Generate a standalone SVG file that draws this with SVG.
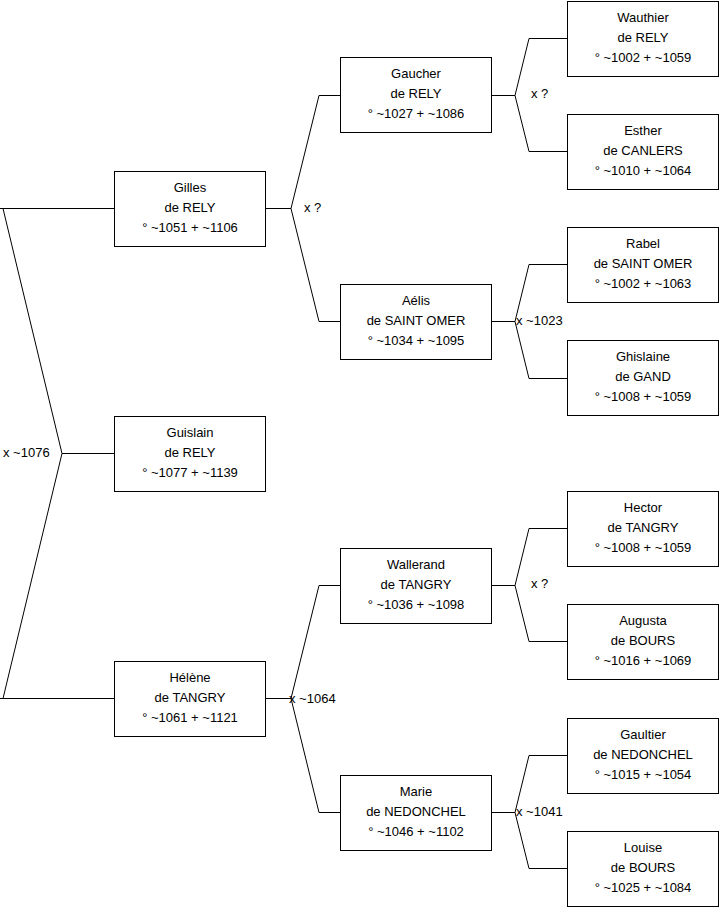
<svg xmlns="http://www.w3.org/2000/svg" width="719" height="908" viewBox="0 0 719 908">
<style>
.box{fill:#fff;stroke:#000;stroke-width:1}
.t{font-family:"Liberation Sans",Arial,sans-serif;font-size:13px;fill:#000}
.c{text-anchor:middle}
.ln{fill:none;stroke:#000;stroke-width:1}
</style>
<rect width="719" height="908" fill="#fff"/>
<g id="connectors" class="ln">
<path d="M0 208.5H114M3 208.5L62 453.5L3 698.5M62 453.5H114M0 698.5H114"/>
<path d="M265 208.5H291M340 95.5H319L291 208.5L319 321.5H340"/>
<path d="M265 698.5H291M340 585.5H319L291 698.5L319 812.5H340"/>
<path d="M491 95.5H515M567 38.5H529L515 95.5L529 151.5H567"/>
<path d="M491 321.5H515M567 264.5H529L515 321.5L529 378.5H567"/>
<path d="M491 585.5H515M567 528.5H529L515 585.5L529 641.5H567"/>
<path d="M491 812.5H515M567 755.5H529L515 812.5L529 868.5H567"/>
</g>
<g id="labels" class="t">
<text x="3" y="457">x ~1076</text>
<text x="304" y="212">x ?</text>
<text x="289" y="702.5">x ~1064</text>
<text x="531" y="98">x ?</text>
<text x="516" y="325">x ~1023</text>
<text x="531" y="588">x ?</text>
<text x="516" y="816">x ~1041</text>
</g>
<g id="gilles"><rect class="box" x="114.5" y="171.5" width="151" height="75"/><text class="t c" x="190" y="192">Gilles</text><text class="t c" x="190" y="212">de RELY</text><text class="t c" x="190" y="232">° ~1051 + ~1106</text></g>
<g id="guislain"><rect class="box" x="114.5" y="416.5" width="151" height="75"/><text class="t c" x="190" y="437">Guislain</text><text class="t c" x="190" y="457">de RELY</text><text class="t c" x="190" y="477">° ~1077 + ~1139</text></g>
<g id="helene"><rect class="box" x="114.5" y="661.5" width="151" height="75"/><text class="t c" x="190" y="682">Hélène</text><text class="t c" x="190" y="702">de TANGRY</text><text class="t c" x="190" y="722">° ~1061 + ~1121</text></g>
<g id="gaucher"><rect class="box" x="340.5" y="57.5" width="151" height="75"/><text class="t c" x="416" y="78">Gaucher</text><text class="t c" x="416" y="98">de RELY</text><text class="t c" x="416" y="118">° ~1027 + ~1086</text></g>
<g id="aelis"><rect class="box" x="340.5" y="284.5" width="151" height="75"/><text class="t c" x="416" y="305">Aélis</text><text class="t c" x="416" y="325">de SAINT OMER</text><text class="t c" x="416" y="345">° ~1034 + ~1095</text></g>
<g id="wallerand"><rect class="box" x="340.5" y="548.5" width="151" height="75"/><text class="t c" x="416" y="569">Wallerand</text><text class="t c" x="416" y="589">de TANGRY</text><text class="t c" x="416" y="609">° ~1036 + ~1098</text></g>
<g id="marie"><rect class="box" x="340.5" y="775.5" width="151" height="75"/><text class="t c" x="416" y="796">Marie</text><text class="t c" x="416" y="816">de NEDONCHEL</text><text class="t c" x="416" y="836">° ~1046 + ~1102</text></g>
<g id="wauthier"><rect class="box" x="567.5" y="1.5" width="151" height="75"/><text class="t c" x="643" y="22">Wauthier</text><text class="t c" x="643" y="42">de RELY</text><text class="t c" x="643" y="62">° ~1002 + ~1059</text></g>
<g id="esther"><rect class="box" x="567.5" y="114.5" width="151" height="75"/><text class="t c" x="643" y="135">Esther</text><text class="t c" x="643" y="155">de CANLERS</text><text class="t c" x="643" y="175">° ~1010 + ~1064</text></g>
<g id="rabel"><rect class="box" x="567.5" y="227.5" width="151" height="75"/><text class="t c" x="643" y="248">Rabel</text><text class="t c" x="643" y="268">de SAINT OMER</text><text class="t c" x="643" y="288">° ~1002 + ~1063</text></g>
<g id="ghislaine"><rect class="box" x="567.5" y="340.5" width="151" height="75"/><text class="t c" x="643" y="361">Ghislaine</text><text class="t c" x="643" y="381">de GAND</text><text class="t c" x="643" y="401">° ~1008 + ~1059</text></g>
<g id="hector"><rect class="box" x="567.5" y="491.5" width="151" height="75"/><text class="t c" x="643" y="512">Hector</text><text class="t c" x="643" y="532">de TANGRY</text><text class="t c" x="643" y="552">° ~1008 + ~1059</text></g>
<g id="augusta"><rect class="box" x="567.5" y="604.5" width="151" height="75"/><text class="t c" x="643" y="625">Augusta</text><text class="t c" x="643" y="645">de BOURS</text><text class="t c" x="643" y="665">° ~1016 + ~1069</text></g>
<g id="gaultier"><rect class="box" x="567.5" y="718.5" width="151" height="75"/><text class="t c" x="643" y="739">Gaultier</text><text class="t c" x="643" y="759">de NEDONCHEL</text><text class="t c" x="643" y="779">° ~1015 + ~1054</text></g>
<g id="louise"><rect class="box" x="567.5" y="831.5" width="151" height="75"/><text class="t c" x="643" y="852">Louise</text><text class="t c" x="643" y="872">de BOURS</text><text class="t c" x="643" y="892">° ~1025 + ~1084</text></g>
</svg>
